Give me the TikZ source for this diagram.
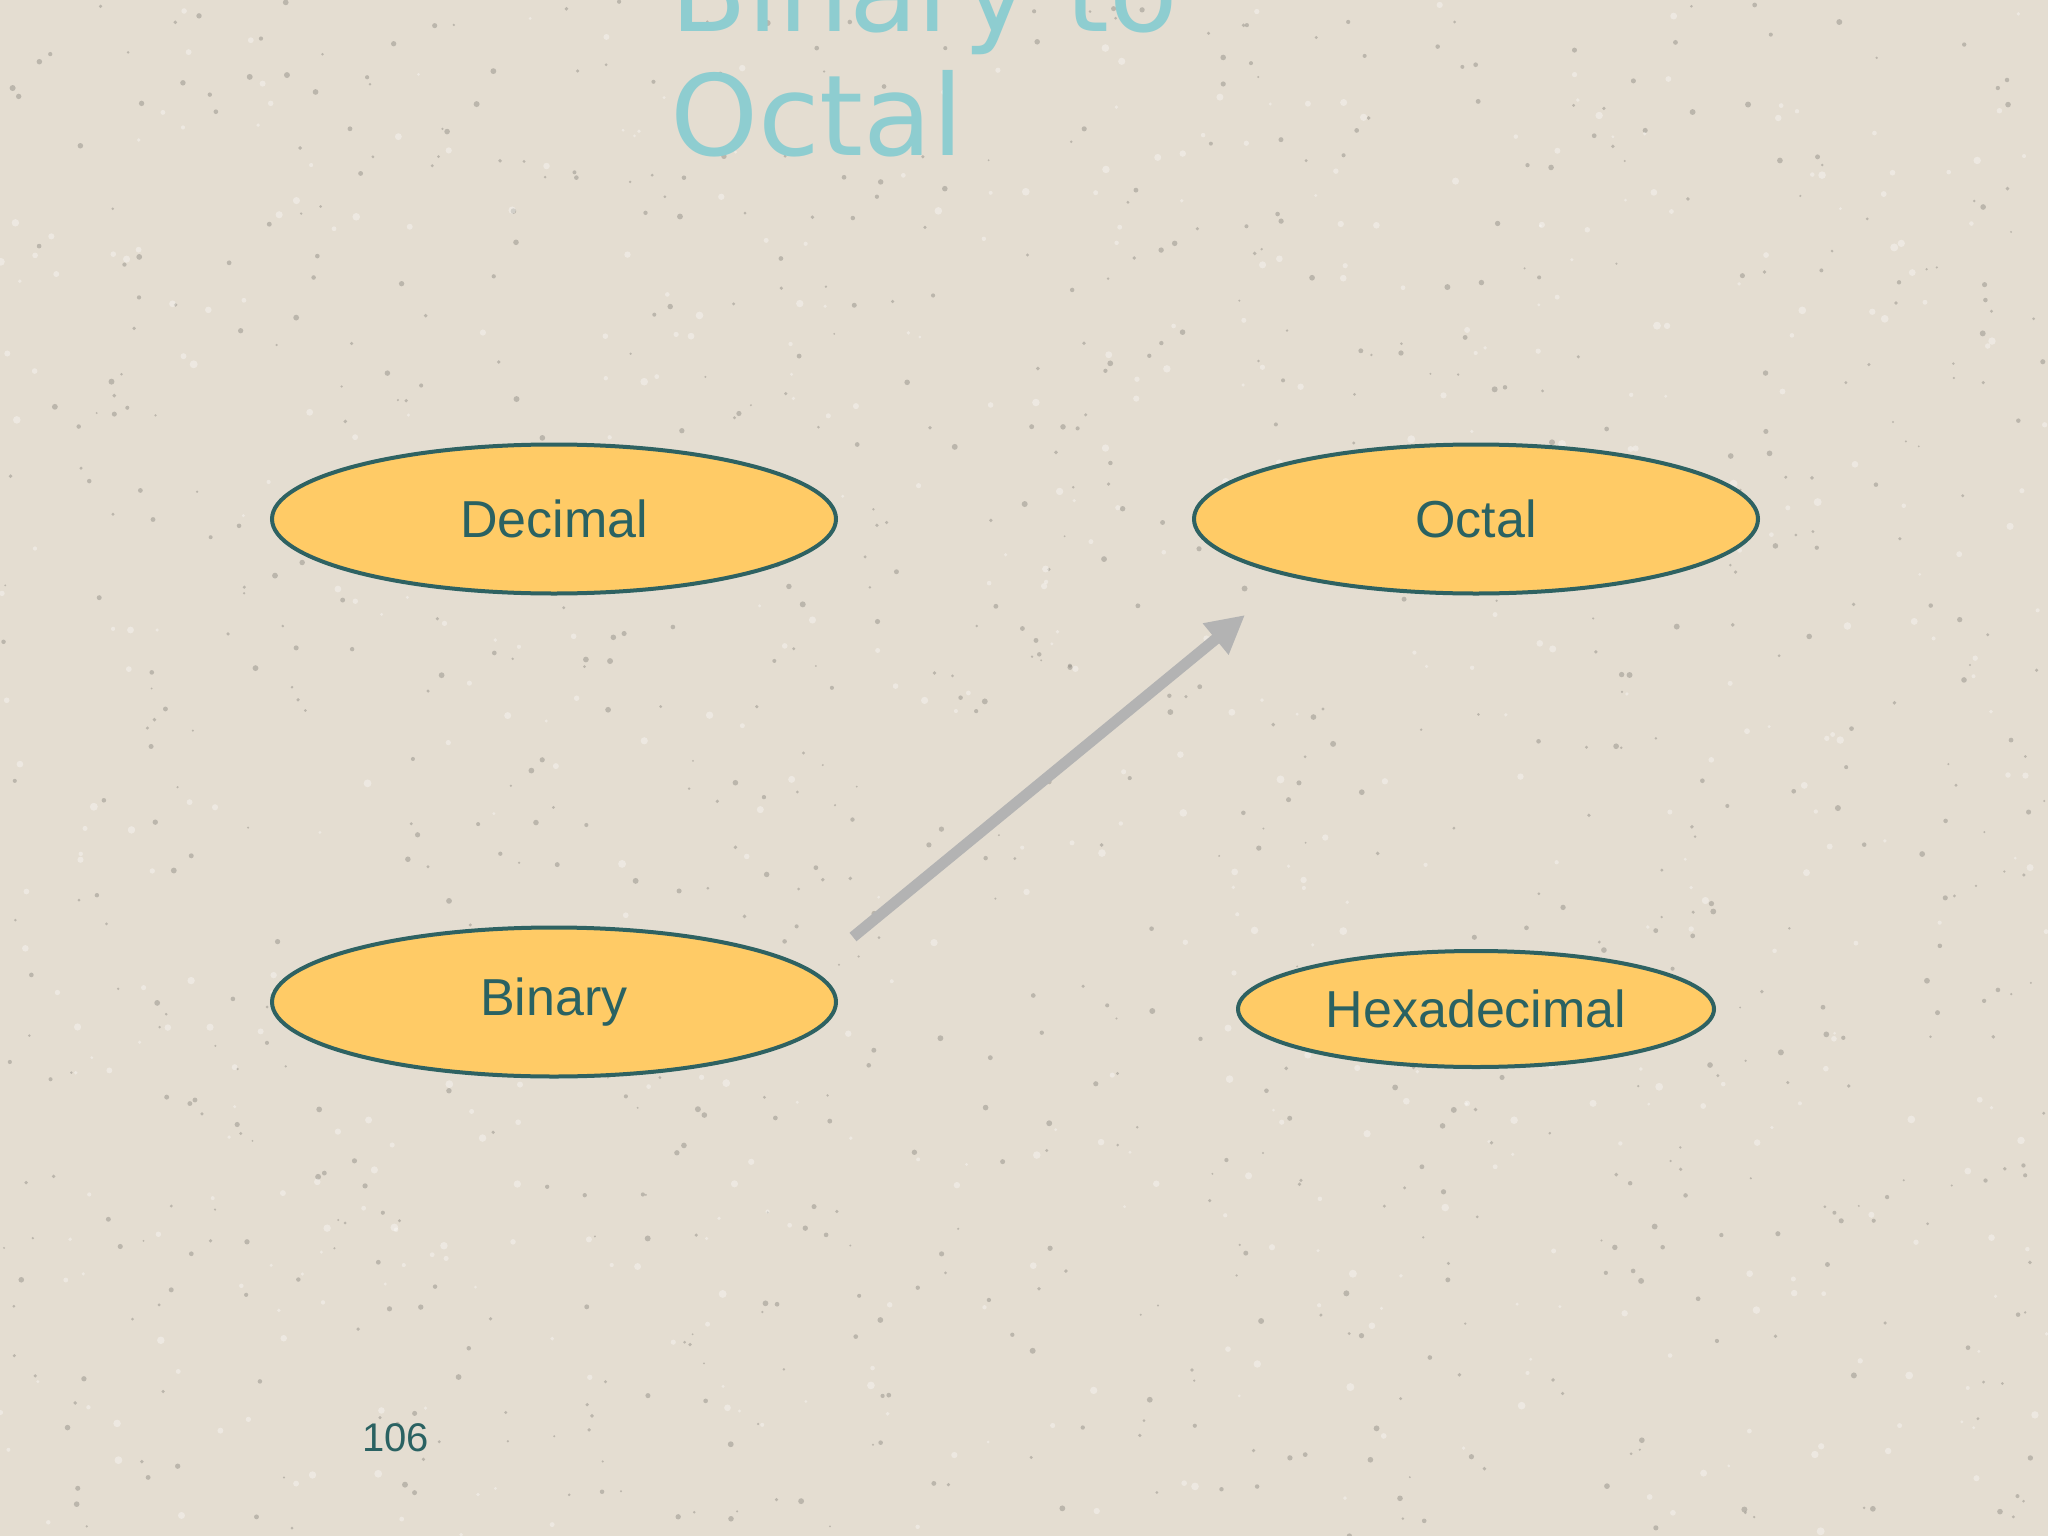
\documentclass[tikz,border=0pt]{standalone}
\usepackage{fontspec}
\setmainfont{Liberation Sans}
\newfontfamily\titlefont{DejaVu Sans}
\usetikzlibrary{shapes.geometric,arrows.meta}
\definecolor{bgc}{HTML}{E4DDD1}
\definecolor{fillc}{HTML}{FFCB66}
\definecolor{edgec}{HTML}{2E6262}
\definecolor{txtc}{HTML}{2A6262}
\definecolor{titlec}{HTML}{8ECDD0}
\definecolor{arrowc}{HTML}{B3B3B3}
\newcommand{\lowtext}[1]{\raisebox{-3pt}{#1}}
\tikzset{
  numbox/.style={ellipse, draw=edgec, line width=4pt, fill=fillc, inner sep=0pt,
    text=txtc, font=\fontsize{52}{60}\selectfont},
  convarrow/.style={draw=arrowc, line width=11pt, -{Triangle[length=38pt,width=38pt]}}
}
\begin{document}
\begin{tikzpicture}[x=1pt,y=-1pt]
\useasboundingbox (0,0) rectangle (2048,1536);
\clip (0,0) rectangle (2048,1536);
\fill[bgc] (0,0) rectangle (2048,1536);
% texture speckles
\pgfmathsetseed{42}
\foreach \i in {1,...,900}{
  \pgfmathsetmacro{\px}{rnd*2048}
  \pgfmathsetmacro{\py}{rnd*1536}
  \pgfmathsetmacro{\pr}{1+rnd*2}
  \fill[black!35!bgc, opacity=0.5] (\px,\py) circle[radius=\pr];
}
\foreach \i in {1,...,600}{
  \pgfmathsetmacro{\px}{rnd*2048}
  \pgfmathsetmacro{\py}{rnd*1536}
  \pgfmathsetmacro{\pr}{1.5+rnd*2.5}
  \fill[white, opacity=0.35] (\px,\py) circle[radius=\pr];
}
\node[anchor=south west, inner sep=0pt, align=left, text=titlec,
      font=\titlefont\fontsize{112}{124}\selectfont] (title) at (670,157)
  {Binary to\\Octal};
\node[numbox, minimum width=564pt, minimum height=149pt] (dec) at (554,519) {\lowtext{Decimal}};
\node[numbox, minimum width=564pt, minimum height=149pt] (oct) at (1476,519) {\lowtext{Octal}};
\node[numbox, minimum width=564pt, minimum height=149pt] (bin) at (554,1002) {\lowtext{Binary}};
\node[numbox, minimum width=476pt, minimum height=116pt] (hex) at (1476,1009) {\lowtext{Hexadecimal}};
\coordinate (a1) at (853,937);
\coordinate (a2) at (1245,615);
\draw[convarrow] (a1) -- (a2);
\node[anchor=base west, inner sep=0pt, text=txtc, font=\fontsize{40}{48}\selectfont] (pg) at (362,1451) {106};
\end{tikzpicture}
\end{document}
